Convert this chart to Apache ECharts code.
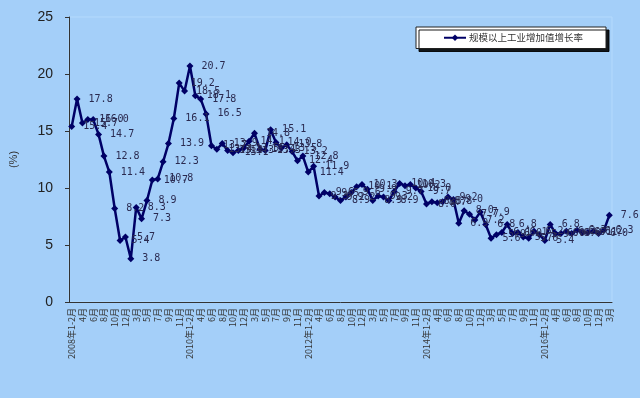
<!DOCTYPE html>
<html><head><meta charset="utf-8">
<script src="https://cdn.jsdelivr.net/npm/echarts@6/dist/echarts.min.js"></script>
<style>html,body{margin:0;padding:0;background:#a4cff9;}#c{width:640px;height:398px;}</style>
</head><body><div id="c"></div>
<script>
const years = [2008, 2009, 2010, 2011, 2012, 2013, 2014, 2015, 2016, 2017];
const months = ['1-2月','3月','4月','5月','6月','7月','8月','9月','10月','11月','12月'];
const values2008 = [15.4, 17.8, 15.7, 16.0, 16.0, 14.7, 12.8, 11.4, 8.2, 5.4, 5.7];
const values2009 = [3.8, 8.3, 7.3, 8.9, 10.7, 10.8, 12.3, 13.9, 16.1, 19.2, 18.5];
const values2010 = [20.7, 18.1, 17.8, 16.5, 13.7, 13.4, 13.9, 13.3, 13.1, 13.3, 13.5];
const values2011 = [14.1, 14.8, 13.4, 13.3, 15.1, 14.0, 13.5, 13.8, 13.2, 12.4, 12.8];
const values2012 = [11.4, 11.9, 9.3, 9.6, 9.5, 9.2, 8.9, 9.2, 9.6, 10.1, 10.3];
const values2013 = [9.9, 8.9, 9.3, 9.2, 8.9, 9.7, 10.4, 10.2, 10.3, 10.0, 9.7];
const values2014 = [8.6, 8.8, 8.7, 8.8, 9.2, 9.0, 6.9, 8.0, 7.7, 7.2, 7.9];
const values2015 = [6.8, 5.6, 5.9, 6.1, 6.8, 6.0, 6.1, 5.7, 5.6, 6.2, 5.9];
const values2016 = [5.4, 6.8, 6.0, 6.0, 6.2, 6.0, 6.3, 6.1, 6.1, 6.2, 6.0];
const values2017 = [6.3, 7.6];
const yTicks = [0, 5, 10, 15, 20, 25];
const seriesName = '规模以上工业增加值增长率';

const allValues = [values2008, values2009, values2010, values2011, values2012, values2013, values2014, values2015, values2016, values2017];
const categories = [];
const data = [];
allValues.forEach((arr, yi) => {
  arr.forEach((v, mi) => {
    categories.push(mi === 0 ? years[yi] + '年' + months[mi] : months[mi]);
    data.push(v);
  });
});

const chart = echarts.init(document.getElementById('c'));
chart.setOption({
  backgroundColor: '#a4cff9',
  animation: false,
  grid: { left: 63, top: 17, right: 28, bottom: 96, show: true, borderColor: '#b4dafd', borderWidth: 1, backgroundColor: 'transparent' },
  legend: {
    left: 416, top: 27,
    padding: [6, 23, 6, 27],
    backgroundColor: '#ffffff',
    borderColor: '#222',
    borderWidth: 1,
    shadowColor: 'rgba(0,0,0,0.9)',
    shadowOffsetX: 3, shadowOffsetY: 3, shadowBlur: 0,
    itemWidth: 22, itemHeight: 8, itemGap: 3,
    textStyle: { fontSize: 9.5, color: '#333', fontFamily: 'Noto Sans CJK SC', padding: [0, 0, 0, -2] },
    data: [{ name: seriesName }]
  },
  xAxis: {
    type: 'category',
    data: categories,
    boundaryGap: true,
    axisLine: { lineStyle: { color: '#333', width: 1 } },
    axisTick: { interval: 0, length: 4, lineStyle: { color: '#333' } },
    axisLabel: { interval: 1, rotate: 90, fontSize: 9, color: '#333', margin: 6, fontFamily: 'Noto Sans CJK SC' },
    splitLine: { show: false }
  },
  yAxis: {
    type: 'value',
    min: yTicks[0], max: yTicks[yTicks.length - 1], interval: 5,
    name: '(%)', nameLocation: 'middle', nameGap: 50, nameRotate: 90,
    nameTextStyle: { fontSize: 11, color: '#333' },
    axisLine: { show: true, lineStyle: { color: '#333', width: 1 } },
    axisTick: { show: true, length: 4, lineStyle: { color: '#333' } },
    axisLabel: { fontSize: 14, color: '#222', margin: 16, fontFamily: 'Liberation Sans' },
    splitLine: { show: false }
  },
  series: [{
    name: seriesName,
    type: 'line',
    data: data,
    showAllSymbol: true,
    symbol: 'diamond',
    symbolSize: 7,
    lineStyle: { color: '#000066', width: 2.5 },
    itemStyle: { color: '#000066' },
    label: {
      show: true, position: 'right', distance: 8,
      fontSize: 10, color: '#2a2a50', fontFamily: 'DejaVu Sans Mono',
      formatter: p => p.value.toFixed(1)
    },
    labelLayout: { hideOverlap: false }
  }]
});
</script></body></html>
